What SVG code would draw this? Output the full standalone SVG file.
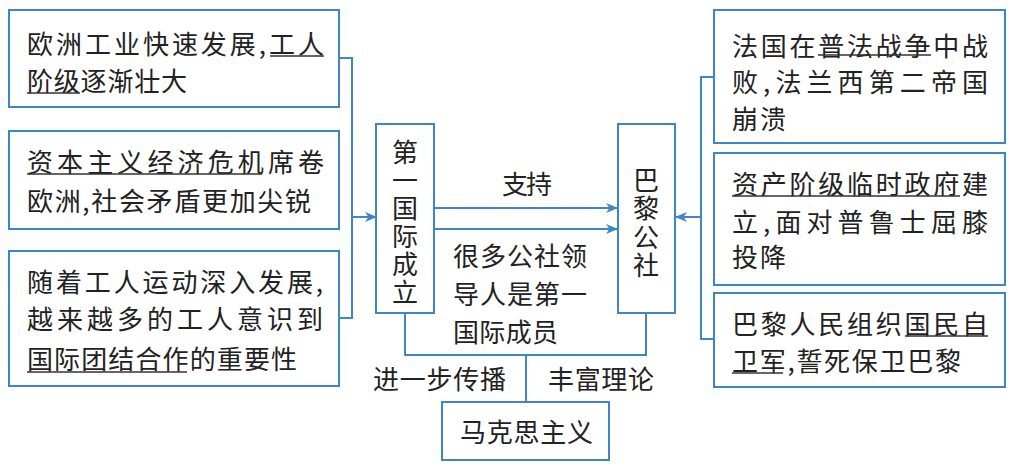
<svg xmlns="http://www.w3.org/2000/svg" width="1015" height="476" viewBox="0 0 1015 476">
<style>
.box{fill:#ffffff;stroke:#3e86c8;stroke-width:2}
.ln{fill:none;stroke:#3e86c8;stroke-width:2}
.ul{stroke:#333;stroke-width:1.3}
text{font-family:"Noto Sans CJK SC","Noto Sans CJK JP",sans-serif;font-size:26px;fill:#222}
.vt{writing-mode:vertical-rl;text-orientation:upright}
</style>
<defs>
<marker id="ah" viewBox="0 0 12 10" refX="11" refY="5" markerWidth="12" markerHeight="10" markerUnits="userSpaceOnUse" orient="auto">
<path d="M0,0 L12,5 L0,10 L3.5,5 z" fill="#3e86c8"/>
</marker>
</defs>
<rect width="1015" height="476" fill="#ffffff"/>
<g id="connectors">
<polyline class="ln" points="339,58 352,58 352,318 339,318"/>
<line class="ln" x1="352" y1="217" x2="376" y2="217" marker-end="url(#ah)"/>
<line class="ln" x1="434" y1="208" x2="617" y2="208" marker-end="url(#ah)"/>
<line class="ln" x1="434" y1="229" x2="617" y2="229" marker-end="url(#ah)"/>
<polyline class="ln" points="714,77 701,77 701,339 714,339"/>
<line class="ln" x1="701" y1="217" x2="676" y2="217" marker-end="url(#ah)"/>
<polyline class="ln" points="405,313 405,355 646,355 646,313"/>
<line class="ln" x1="526" y1="355" x2="526" y2="402"/>
<text x="502" y="194" textLength="50" lengthAdjust="spacing">支持</text>
<text x="453" y="266" textLength="134" lengthAdjust="spacing">很多公社领</text>
<text x="453" y="304" textLength="134" lengthAdjust="spacing">导人是第一</text>
<text x="453" y="342" textLength="105" lengthAdjust="spacing">国际成员</text>
<text x="373" y="389" textLength="133" lengthAdjust="spacing">进一步传播</text>
<text x="548" y="389" textLength="106" lengthAdjust="spacing">丰富理论</text>
</g>
<g id="left1">
<rect class="box" x="9" y="10" width="330" height="97"/>
<text x="27" y="54" textLength="297" lengthAdjust="spacing">欧洲工业快速发展,工人</text>
<text x="27" y="91" textLength="160" lengthAdjust="spacing">阶级逐渐壮大</text>
<line class="ul" x1="270" y1="56" x2="324" y2="56"/>
<line class="ul" x1="27" y1="93" x2="80" y2="93"/>
</g>
<g id="left2">
<rect class="box" x="9" y="131" width="330" height="98"/>
<text x="27" y="172" textLength="297" lengthAdjust="spacing">资本主义经济危机席卷</text>
<text x="27" y="211" textLength="284" lengthAdjust="spacing">欧洲,社会矛盾更加尖锐</text>
<line class="ul" x1="27" y1="174" x2="262" y2="174"/>
</g>
<g id="left3">
<rect class="box" x="9" y="251" width="330" height="135"/>
<text x="27" y="292" textLength="296" lengthAdjust="spacing">随着工人运动深入发展,</text>
<text x="27" y="329" textLength="296" lengthAdjust="spacing">越来越多的工人意识到</text>
<text x="27" y="369" textLength="270" lengthAdjust="spacing">国际团结合作的重要性</text>
<line class="ul" x1="27" y1="372" x2="187" y2="372"/>
</g>
<g id="first-international">
<rect class="box" x="376" y="124" width="58" height="189"/>
<text class="vt" x="405" y="139" textLength="166" lengthAdjust="spacing">第一国际成立</text>
</g>
<g id="paris-commune">
<rect class="box" x="618" y="124" width="57" height="189"/>
<text class="vt" x="646" y="167" textLength="111" lengthAdjust="spacing">巴黎公社</text>
</g>
<g id="marxism">
<rect class="box" x="442" y="402" width="167" height="58"/>
<text x="460" y="442" textLength="133" lengthAdjust="spacing">马克思主义</text>
</g>
<g id="right1">
<rect class="box" x="714" y="10" width="291" height="133"/>
<text x="732" y="56" textLength="256" lengthAdjust="spacing">法国在普法战争中战</text>
<text x="732" y="92" textLength="256" lengthAdjust="spacing">败,法兰西第二帝国</text>
<text x="732" y="129" textLength="54" lengthAdjust="spacing">崩溃</text>
<line class="ul" x1="818" y1="55" x2="931" y2="55"/>
</g>
<g id="right2">
<rect class="box" x="714" y="153" width="291" height="132"/>
<text x="732" y="194" textLength="256" lengthAdjust="spacing">资产阶级临时政府建</text>
<text x="732" y="232" textLength="256" lengthAdjust="spacing">立,面对普鲁士屈膝</text>
<text x="732" y="267" textLength="54" lengthAdjust="spacing">投降</text>
<line class="ul" x1="732" y1="196" x2="960" y2="196"/>
</g>
<g id="right3">
<rect class="box" x="714" y="293" width="291" height="94"/>
<text x="732" y="334" textLength="256" lengthAdjust="spacing">巴黎人民组织国民自</text>
<text x="732" y="371" textLength="229" lengthAdjust="spacing">卫军,誓死保卫巴黎</text>
<line class="ul" x1="905" y1="336" x2="988" y2="336"/>
<line class="ul" x1="732" y1="373" x2="783" y2="373"/>
</g>
</svg>
